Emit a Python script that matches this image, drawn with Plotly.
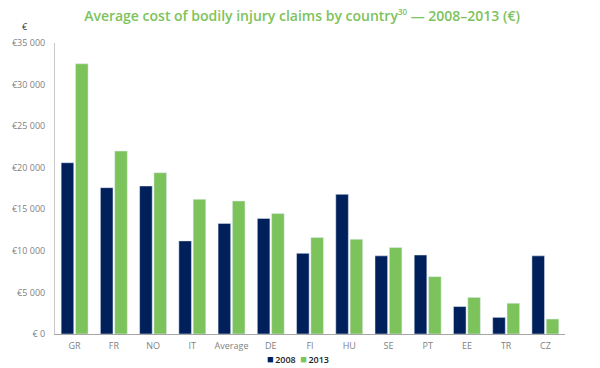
import plotly.graph_objects as go

categories = ["GR", "FR", "NO", "IT", "Average", "DE", "FI", "HU", "SE", "PT", "EE", "TR", "CZ"]
values_2008 = [20600, 17600, 17800, 11200, 13300, 13900, 9700, 16800, 9400, 9500, 3300, 2000, 9400]
values_2013 = [32500, 22000, 19400, 16200, 16000, 14500, 11600, 11400, 10400, 6900, 4400, 3700, 1800]
series_names = ["2008", "2013"]
tick_vals = [0, 5000, 10000, 15000, 20000, 25000, 30000, 35000]
tick_text = ["€ 0", "€5 000", "€10 000", "€15 000", "€20 000", "€25 000", "€30 000", "€35 000"]

navy = "#00205B"
green = "#7DC35B"
gray = "#7F7F7F"
colors = [navy, green]

fig = go.Figure()
for name, vals, col in zip(series_names, [values_2008, values_2013], colors):
    fig.add_trace(go.Bar(x=categories, y=vals, name=name, marker_color=col, showlegend=False))

# page has an 8px body margin, so the figure is drawn 8px right/down
OFF = 8
W, H = 600 - OFF, 368 - OFF
L, R, T, B = 55 - OFF, 35, 43 - OFF, 34
pw, ph = W - L - R, H - T - B

legend_text = "\u2002".join(
    f"<span style='color:{c};font-size:11px'>■</span>\u2009{n}" for n, c in zip(series_names, colors)
)

fig.update_layout(
    width=W, height=H,
    margin=dict(l=L, r=R, t=T, b=B, autoexpand=False),
    paper_bgcolor="white", plot_bgcolor="white",
    barmode="group", bargap=0.27, bargroupgap=0.12,
    font=dict(family="Open Sans, Noto Sans, sans-serif", color=gray, size=9),
    title=dict(
        text="Average cost of bodily injury claims by country<sup><span style='font-size:8px'>30</span></sup> — 2008–2013 (€)",
        x=(302 - OFF) / W, xanchor="center", y=1 - (16 - OFF) / H, yanchor="middle",
        font=dict(family="Open Sans, Noto Sans, sans-serif", size=14, color=green, weight=600),
    ),
    showlegend=False,
    xaxis=dict(
        showgrid=False, showline=True, linecolor="#A6A6A6", linewidth=1,
        ticks="", tickfont=dict(size=9, color=gray), ticklabelstandoff=3, automargin=False,
    ),
    yaxis=dict(
        range=[0, 35000], showgrid=False, zeroline=False, showline=True,
        linecolor="#C8C8C8", linewidth=1, tickvals=tick_vals, ticktext=tick_text,
        ticks="", tickfont=dict(size=9, color=gray), ticklabelstandoff=7, automargin=False,
    ),
    annotations=[
        dict(
            text="€", xref="paper", yref="paper", x=(25 - 55) / pw, y=(334 - 27) / ph,
            xanchor="center", yanchor="middle", showarrow=False,
            font=dict(size=9, color="#333333"),
        ),
        dict(
            text=legend_text, xref="paper", yref="paper", x=(298 - 55) / pw, y=(334 - 358) / ph,
            xanchor="center", yanchor="middle", showarrow=False,
            font=dict(size=9, color="#222222", weight=600),
        ),
    ],
)

fig.write_html("out.html")
